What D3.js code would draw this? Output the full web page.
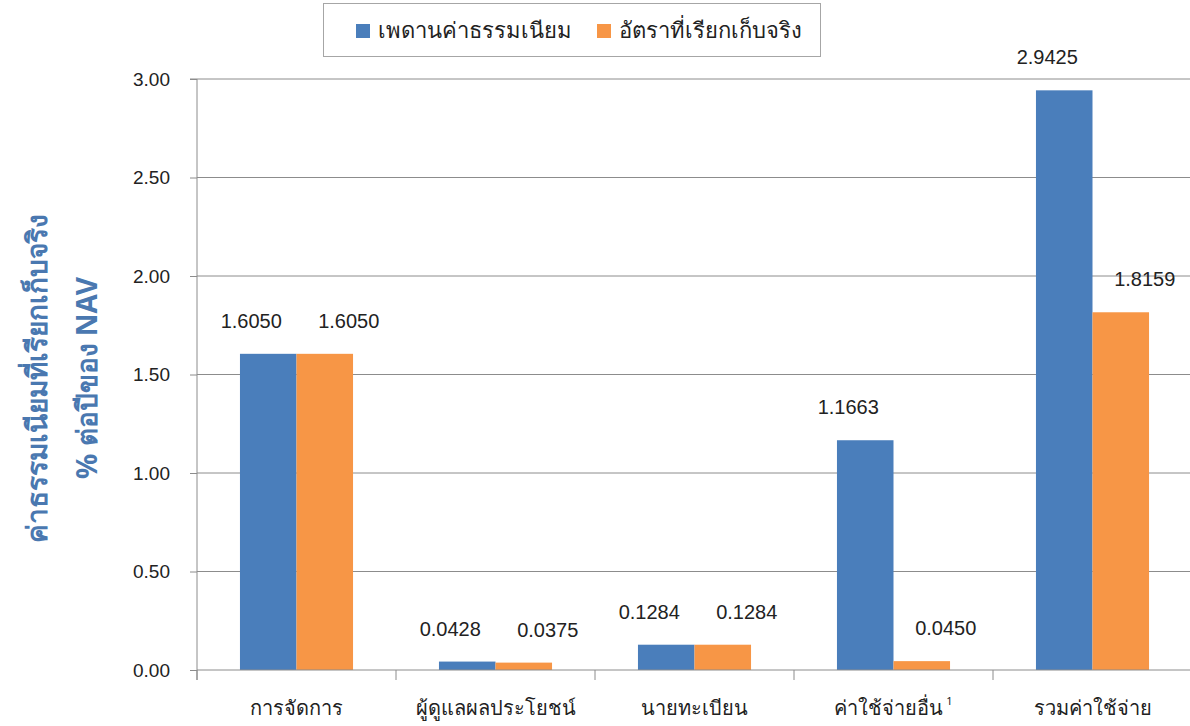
<!DOCTYPE html>
<html><head><meta charset="utf-8">
<script src="https://cdn.jsdelivr.net/npm/d3@7"></script>
<style>body{margin:0;background:#fff;} svg{display:block;font-family:"Liberation Sans",Arial,sans-serif;}</style>
</head><body>
<svg id="c" width="1190" height="726"></svg>
<script>
const categories = ["การจัดการ","ผู้ดูแลผลประโยชน์","นายทะเบียน","ค่าใช้จ่ายอื่น","รวมค่าใช้จ่าย"];
const catSup = ["","","","1",""];
const seriesNames = ["เพดานค่าธรรมเนียม","อัตราที่เรียกเก็บจริง"];
const ceiling = [1.6050,0.0428,0.1284,1.1663,2.9425];
const actual = [1.6050,0.0375,0.1284,0.0450,1.8159];
const yTicks = [0,0.5,1,1.5,2,2.5,3];
const colors = ["#4a7ebb","#f79646"];

(function(){
const svg = d3.select("#c");
const mLeft = 197, mRight = 1192, mTop = 79, mBottom = 670;
const labelShift = [-17, 24];
const x = d3.scaleBand().domain(categories).range([mLeft, mRight]).paddingInner(0).paddingOuter(0);
const x1 = d3.scaleBand().domain([0,1]).range([0, x.bandwidth()]).paddingInner(0).paddingOuter(0.76);
const y = d3.scaleLinear().domain([0,3]).range([mBottom, mTop]);

// gridlines
svg.append("g").selectAll("line").data(yTicks.filter(d=>d>0)).join("line")
  .attr("x1", mLeft).attr("x2", 1190).attr("y1", d=>y(d)).attr("y2", d=>y(d))
  .attr("stroke", "#8c8c8c").attr("stroke-width", 1);

// y axis
const ya = svg.append("g").attr("transform", `translate(${mLeft},0)`)
  .call(d3.axisLeft(y).tickValues(yTicks).tickFormat(d3.format(".2f")).tickSize(7).tickPadding(20));
ya.select(".domain").attr("stroke", "#8c8c8c").attr("d", `M-7,${y(3)}H0V${mBottom+10}`);
ya.selectAll(".tick line").attr("stroke", "#8c8c8c");
ya.selectAll(".tick text").attr("font-size", 19).attr("fill", "#222").attr("font-family", "Liberation Sans, Arial, sans-serif");

// bars
const data = categories.map((c,i)=>({c, v:[ceiling[i], actual[i]]}));
const g = svg.append("g");
data.forEach(d=>{
  d.v.forEach((v,k)=>{
    g.append("rect").attr("x", x(d.c)+x1(k)).attr("width", x1.bandwidth())
      .attr("y", y(v)).attr("height", y(0)-y(v)).attr("fill", colors[k]);
    g.append("text").attr("x", x(d.c)+x1(k)+x1.bandwidth()/2+labelShift[k]).attr("y", y(v)-26)
      .attr("text-anchor","middle").attr("font-size",20).attr("fill","#222").text(v.toFixed(4));
  });
});

// x axis
const xa = svg.append("g").attr("transform", `translate(0,${mBottom})`);
xa.append("line").attr("x1", mLeft).attr("x2", 1190).attr("stroke","#8c8c8c");
xa.selectAll(".tk").data(categories).join("line").attr("class","tk")
  .attr("x1", d=>x(d)).attr("x2", d=>x(d)).attr("y1",0).attr("y2",10).attr("stroke","#8c8c8c");
const lbl = xa.selectAll(".lb").data(categories).join("text").attr("class","lb")
  .attr("x", d=>x(d)+x.bandwidth()/2).attr("y", 45).attr("text-anchor","middle")
  .attr("font-size", 20).attr("fill","#222").attr("font-family","Noto Sans, sans-serif");
lbl.each(function(d,i){
  const t = d3.select(this);
  t.append("tspan").text(d);
  if (catSup[i]) t.append("tspan").attr("dy",-10).attr("dx",3).attr("font-size",11).text(catSup[i]);
});

// y title
const yt = svg.append("text").attr("transform","translate(0,378) rotate(-90)")
  .attr("text-anchor","middle").attr("fill","#4a78b0").attr("font-weight","bold")
  .attr("font-size",28).attr("font-family","Noto Sans, sans-serif");
yt.append("tspan").attr("x",0).attr("y",47).text("ค่าธรรมเนียมที่เรียกเก็บจริง");
yt.append("tspan").attr("x",0).attr("y",97).text("% ต่อปีของ NAV");

// legend
const lg = svg.append("g");
lg.append("rect").attr("x",323.5).attr("y",3.5).attr("width",497).attr("height",53)
  .attr("fill","#fff").attr("stroke","#a6a6a6");
const lx = [356, 597];
seriesNames.forEach((s,k)=>{
  lg.append("rect").attr("x",lx[k]).attr("y",24).attr("width",14).attr("height",14).attr("fill",colors[k]);
  lg.append("text").attr("x",lx[k]+22).attr("y",38).attr("font-size",22).attr("fill","#222")
    .attr("font-family","Noto Sans, sans-serif").text(s);
});
})();
</script>
</body></html>
